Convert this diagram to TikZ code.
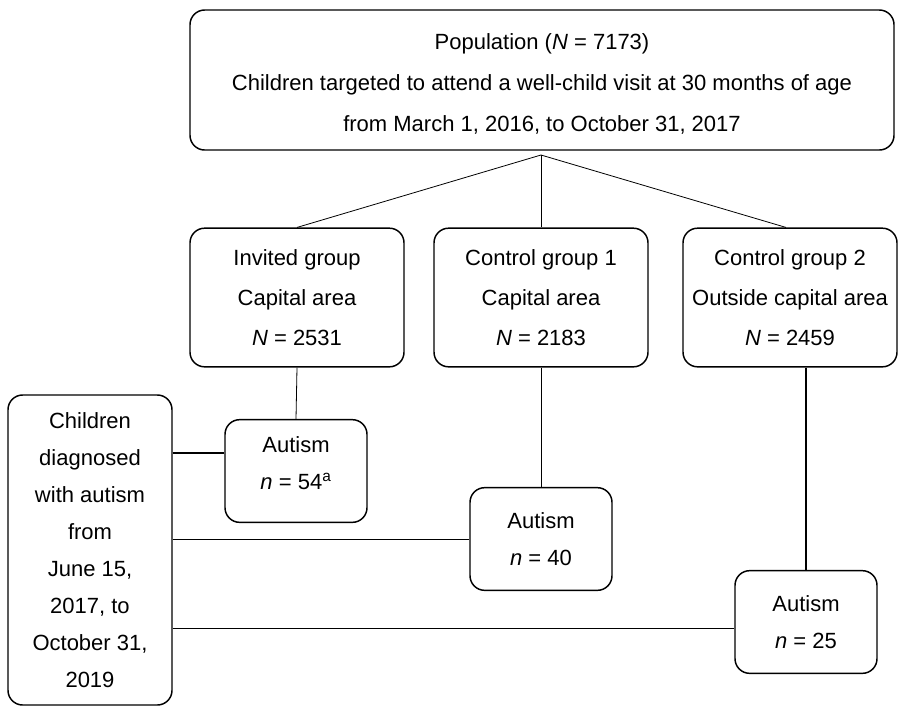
\documentclass[tikz,border=0pt]{standalone}
\usepackage{fontspec}
\setmainfont{Liberation Sans}
\usepackage{tikz}
\tikzset{
  every node/.style={font=\fontsize{16.5}{30}\selectfont},
  box/.style={draw,line width=1.1pt,rounded corners=11pt,align=center,inner sep=0pt},
  bigbox/.style={box,minimum width=528pt,minimum height=105pt,font=\fontsize{16.5}{30.7}\selectfont},
  groupbox/.style={box,minimum width=160.5pt,minimum height=104pt},
  autbox/.style={box,minimum width=106.5pt,minimum height=77pt,font=\fontsize{16.5}{28}\selectfont},
  sidebox/.style={box,minimum width=123pt,minimum height=232.5pt,font=\fontsize{16.5}{27.8}\selectfont},
  link/.style={draw,line width=0.6pt},
  strong/.style={draw,line width=1pt},
}
\newcommand{\Nv}{\textit{N}}
\newcommand{\nv}{\textit{n}}

\begin{document}
\begin{tikzpicture}[x=0.75pt,y=-0.75pt]
  \useasboundingbox (0,0) rectangle (913,708);
  \node[bigbox,text height=79.5pt] (pop) at (542,80) {Population (\Nv{} = 7173)\\Children targeted to attend a well-child visit at 30 months of age\\from March 1, 2016, to October 31, 2017};
  \coordinate (split) at (541,155);
  \node[groupbox] (inv) at (297,297.5) {Invited group\\Capital area\\\Nv{} = 2531};
  \node[groupbox] (ctl1) at (541,297.5) {Control group 1\\Capital area\\\Nv{} = 2183};
  \node[groupbox] (ctl2) at (790,297.5) {Control group 2\\Outside capital area\\\Nv{} = 2459};
  \node[autbox,text depth=12pt] (aut1) at (296,471) {Autism\\\nv{} = 54\textsuperscript{a}};
  \node[autbox] (aut2) at (541,539) {Autism\\\nv{} = 40};
  \node[autbox] (aut3) at (806,622) {Autism\\\nv{} = 25};
  \node[sidebox] (diag) at (90,550) {Children\\diagnosed\\with autism\\from\\June 15,\\2017, to\\October 31,\\2019};
  \draw[link] (split) -- (inv.north);
  \draw[link] (split) -- (ctl1.north);
  \draw[link] (split) -- ([xshift=-3pt]ctl2.north);
  \draw[link] (inv.south) -- (aut1.north);
  \draw[link] (ctl1.south) -- (aut2.north);
  \draw[strong] (aut3.north |- ctl2.south) -- (aut3.north);
  \draw[strong] (diag.east |- aut1.166) -- (aut1.166);
  \draw[link] (diag.east |- aut2.west) -- (aut2.west);
  \draw[link] (diag.east |- aut3.185) -- (aut3.185);
\end{tikzpicture}
\end{document}
